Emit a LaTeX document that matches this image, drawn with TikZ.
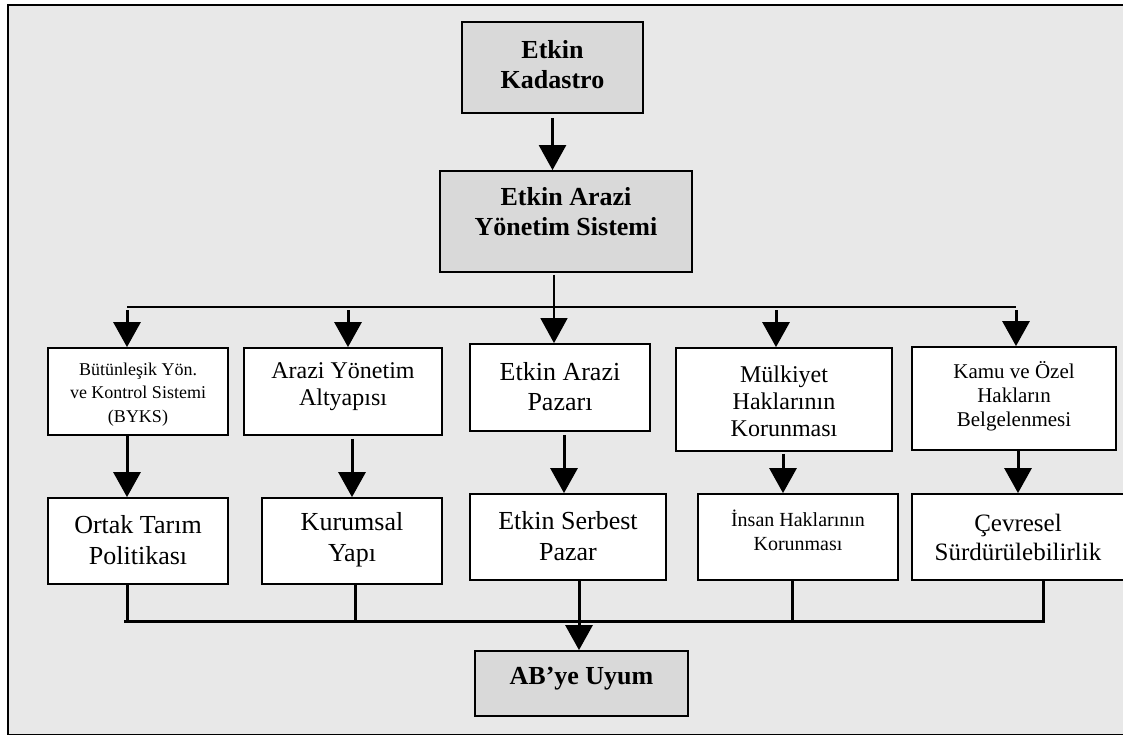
\documentclass[tikz,border=0pt]{standalone}
\usepackage{fontspec}
\setmainfont{Liberation Serif}
\usetikzlibrary{arrows.meta}
\definecolor{bggray}{HTML}{E8E8E8}
\definecolor{boxgray}{HTML}{D9D9D9}

\begin{document}
\begin{tikzpicture}[x=1pt,y=-1pt,>={Triangle[width=27pt,length=25pt]},line join=miter,
	gbox/.style={draw,line width=1.8pt,fill=boxgray,inner sep=0pt},
	wbox/.style={draw,line width=1.8pt,fill=white,inner sep=0pt},
	txt/.style={align=center,inner sep=0pt},
	btxt/.style={txt,font=\fontsize{26pt}{30pt}\selectfont\bfseries},
	arr/.style={->,line width=3pt},
	bus/.style={line width=2pt}]
	\useasboundingbox (0,0) rectangle (1123,736);
	\draw[line width=1.8pt,fill=bggray] (8,5) rectangle (1140,734.5);
	% ust kutular
	\node[gbox,minimum width=181pt,minimum height=91pt] (kad) at (552.5,67.5) {};
	\node[btxt] (kadt) at (552.5,64.5) {Etkin\\Kadastro};
	\node[gbox,minimum width=252pt,minimum height=101pt] (ays) at (566,221.5) {};
	\node[btxt] (ayst) at (566,211.5) {Etkin Arazi\\Yönetim Sistemi};
	\draw[->,line width=2.6pt,shorten <=4pt] (kad.south) -- (kad.south |- ays.north);
	% birinci sira
	\node[wbox,minimum width=180pt,minimum height=87pt] (byks) at (138,391.5) {};
	\node[txt,font=\fontsize{18pt}{23.8pt}\selectfont] (bykst) at (138,394.5) {Bütünleşik Yön.\\ve Kontrol Sistemi\\(BYKS)};
	\node[wbox,minimum width=198pt,minimum height=87pt] (alt) at (343,391.5) {};
	\node[txt,font=\fontsize{24pt}{27pt}\selectfont] (altt) at (343,386.5) {Arazi Yönetim\\Altyapısı};
	\node[wbox,minimum width=180pt,minimum height=87pt] (paz) at (560,387.5) {};
	\node[txt,font=\fontsize{26pt}{30pt}\selectfont] (pazt) at (560,387) {Etkin Arazi\\Pazarı};
	\node[wbox,minimum width=216pt,minimum height=103pt] (mulk) at (784,399.5) {};
	\node[txt,font=\fontsize{24pt}{27pt}\selectfont] (mulkt) at (784,401) {Mülkiyet\\Haklarının\\Korunması};
	\node[wbox,minimum width=204pt,minimum height=103pt] (kamu) at (1014,398.5) {};
	\node[txt,font=\fontsize{21pt}{24pt}\selectfont] (kamut) at (1014,396) {Kamu ve Özel\\Hakların\\Belgelenmesi};
	% ikinci sira
	\node[wbox,minimum width=180pt,minimum height=86pt] (otp) at (138,541) {};
	\node[txt,font=\fontsize{26pt}{31pt}\selectfont] (otpt) at (138,540) {Ortak Tarım\\Politikası};
	\node[wbox,minimum width=180pt,minimum height=86pt] (kur) at (352,541) {};
	\node[txt,font=\fontsize{26pt}{31pt}\selectfont] (kurt) at (352,540) {Kurumsal\\Yapı};
	\node[wbox,minimum width=196pt,minimum height=86pt] (serb) at (568,537) {};
	\node[txt,font=\fontsize{26pt}{31pt}\selectfont] (serbt) at (568,536) {Etkin Serbest\\Pazar};
	\node[wbox,minimum width=200pt,minimum height=86pt] (insan) at (798,537) {};
	\node[txt,font=\fontsize{20pt}{24pt}\selectfont] (insant) at (798,530) {İnsan Haklarının\\Korunması};
	\node[wbox,minimum width=212pt,minimum height=86pt] (cevre) at (1018,537) {};
	\node[txt,font=\fontsize{25pt}{29pt}\selectfont] (cevret) at (1018,537.5) {Çevresel\\Sürdürülebilirlik};
	% alt kutu
	\node[gbox,minimum width=213pt,minimum height=65pt] (ab) at (581.5,683.5) {};
	\node[btxt] (abt) at (581.5,679) {AB’ye Uyum};
	% ust dagitim hatti
	\coordinate (b1) at (127,307);
	\coordinate (b2) at (348,307);
	\coordinate (b3) at (554,307);
	\coordinate (b4) at (776,307);
	\coordinate (b5) at (1016,307);
	\draw[bus] (b1) -- (b5);
	\foreach \c/\n in {b1/byks,b2/alt,b4/mulk,b5/kamu}{
		\draw[arr,shorten <=3pt] (\c) -- (\c |- \n.north);
	}
	\draw[->,line width=1.5pt,shorten <=2pt] (ays.south -| b3) -- (b3 |- paz.north);
	% siralar arasi oklar
	\draw[arr] (b1 |- byks.south) -- (b1 |- otp.north);
	\draw[arr,shorten <=3pt] (alt.south -| kur.north) -- (kur.north);
	\draw[arr,shorten <=3pt] ([xshift=4pt]paz.south) -- ([xshift=-4pt]serb.north);
	\draw[arr,shorten <=2pt] ([xshift=-1pt]mulk.south) -- ([xshift=-1pt]mulk.south |- insan.north);
	\draw[arr] (cevre.north |- kamu.south) -- (cevre.north);
	% alt toplama hatti
	\coordinate (c1) at (124,621.5);
	\coordinate (c2) at (1045,621.5);
	\coordinate (m) at (579,621.5);
	\draw[line width=3pt] (c1) -- (c2);
	\draw[line width=3pt] (b1 |- otp.south) -- (b1 |- c1);
	\draw[line width=3pt] ([xshift=3pt]kur.south) -- ([xshift=3pt]kur.south |- c1);
	\draw[line width=3pt] ([xshift=-6pt]insan.south) -- ([xshift=-6pt]insan.south |- c1);
	\draw[line width=3pt] ([xshift=25pt]cevre.south) -- ([xshift=25pt]cevre.south |- c1);
	\draw[arr] (serb.south -| m) -- (m |- ab.north);
\end{tikzpicture}
\end{document}
